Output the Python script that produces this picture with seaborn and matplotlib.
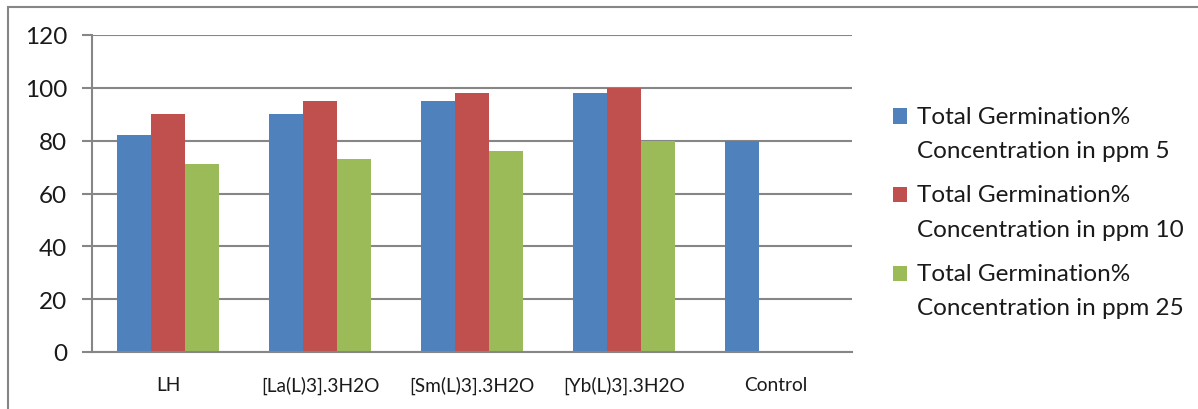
import numpy as np
import pandas as pd
import matplotlib
matplotlib.use("Agg")
import matplotlib.pyplot as plt
from matplotlib.patches import Rectangle
from matplotlib.legend_handler import HandlerPatch
import seaborn as sns

sns.set_style("white")
plt.rcParams["font.family"] = ["Lato", "DejaVu Sans"]

categories = ["LH", "[La(L)3].3H2O", "[Sm(L)3].3H2O", "[Yb(L)3].3H2O", "Control"]
series = [
    "Total Germination%\nConcentration in ppm 5",
    "Total Germination%\nConcentration in ppm 10",
    "Total Germination%\nConcentration in ppm 25",
]
ppm5 = [82, 90, 95, 98, 80]
ppm10 = [90, 95, 98, 100, np.nan]
ppm25 = [71, 73, 76, 80, np.nan]
yticks = [0, 20, 40, 60, 80, 100, 120]

colors = ["#4F81BD", "#C0504D", "#9BBB59"]
grid_col = "#868686"
legend_fs = 17.5
legend_linespacing = 1.78
swatch_lift_pt = 12.4  # raise the swatch from the label's middle to its first line

rows = []
for s, vals in zip(series, [ppm5, ppm10, ppm25]):
    for c, v in zip(categories, vals):
        rows.append({"category": c, "series": s, "value": v})
df = pd.DataFrame(rows).dropna()

fig = plt.figure(figsize=(11.98, 4.10), dpi=100)
ax = fig.add_axes([92 / 1198, 1 - 353 / 410, (852 - 92) / 1198, (353 - 36) / 410])

sns.barplot(
    data=df, x="category", y="value", hue="series",
    order=categories, hue_order=series, palette=colors,
    width=0.67, gap=0, dodge=True, errorbar=None,
    linewidth=0, saturation=1, ax=ax,
)

ax.set_ylim(0, 120)
ax.set_xlim(-0.5, len(categories) - 0.5)
ax.set_yticks(yticks)
ax.set_yticklabels([str(t) for t in yticks], fontsize=17.5, color="#1a1a1a")
ax.yaxis.grid(True, color=grid_col, linewidth=1.5)
ax.set_axisbelow(True)
ax.set_xlabel("")
ax.set_ylabel("")

# category labels centered, tick marks at the category boundaries
ax.set_xticks(range(len(categories)))
ax.set_xticklabels(categories, fontsize=13.8, color="#1a1a1a")
ax.tick_params(axis="x", length=0, pad=17)
ax.set_xticks(np.arange(-0.5, len(categories) + 0.5, 1), minor=True)
ax.tick_params(axis="x", which="minor", length=8, width=1.5, color=grid_col, direction="out")
ax.tick_params(axis="y", length=7, width=1.5, color=grid_col, direction="out", pad=11, left=True)

for side in ["top", "right"]:
    ax.spines[side].set_visible(False)
for side in ["left", "bottom"]:
    ax.spines[side].set_color(grid_col)
    ax.spines[side].set_linewidth(1.5)


# legend swatch aligned with the first line of its two-line label
def top_line_swatch(legend, orig_handle, xdescent, ydescent, width, height, fontsize):
    return Rectangle((-xdescent, -ydescent + swatch_lift_pt), width, height)


handles, labels = ax.get_legend_handles_labels()
leg = ax.legend(
    handles, labels, loc="center left", bbox_to_anchor=(871 / 1198, 1 - 213 / 410),
    bbox_transform=fig.transFigure, frameon=False, fontsize=legend_fs,
    handlelength=0.6, handleheight=0.6, handletextpad=0.4, labelspacing=0.97,
    handler_map={h: HandlerPatch(patch_func=top_line_swatch) for h in handles},
)
for t in leg.get_texts():
    t.set_linespacing(legend_linespacing)
    t.set_color("#1a1a1a")

# chart area border
fig.patches.append(Rectangle((8 / 1198, -0.05), 1.1, 1 - 8 / 410 + 0.05,
                             transform=fig.transFigure, fill=False,
                             edgecolor=grid_col, linewidth=1.5))

fig.savefig("out.png", dpi=100)
